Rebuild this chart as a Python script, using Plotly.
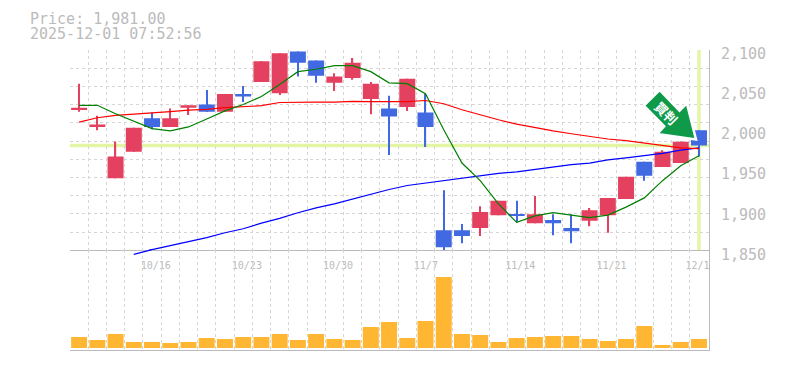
import plotly.graph_objects as go

dates = ["10/9","10/10","10/14","10/15","10/16","10/17","10/20","10/21","10/22","10/23","10/24","10/27",
         "10/28","10/29","10/30","10/31","11/4","11/5","11/6","11/7","11/10","11/11","11/12","11/13","11/14",
         "11/17","11/18","11/19","11/20","11/21","11/25","11/26","11/27","11/28","12/1"]
open_ = [2026,2004,1940,1973,2015,2004,2028,2032,2023,2045,2060,2046,2098,2087,2059,2065,2039,2027,2029,2022,
         1875,1875,1878,1894,1895.5,1884,1888,1878,1887,1894,1914,1960.5,1954,1959,2000]
close = [2028,2007,1967,2003,2004,2015,2031,2023,2045,2042,2086,2096,2084,2068,2067,2084,2058,2017,2064,2004,
         1854,1868,1898,1912,1893,1895,1884,1874,1900,1915.5,1942,1943,1973,1985.5,1981]
high = [2058,2018,1986,2003,2022,2027,2031,2050,2045,2055,2086,2096,2098,2087,2071,2090,2060,2043,2064,2045,
        1925,1883,1905,1912,1912,1918,1895,1895,1903,1915.5,1942,1960.5,1975,1986,2000]
low = [2023,2000,1940,1973,2001,2004,2019,2023,2023,2035,2060,2044,2067,2059,2049,2063,2020,1969,2024,1979,
       1850,1859,1868,1894,1885,1884,1869,1859,1880,1872,1914,1937,1954,1959,1967]
ma_short = [2031,2031,2020.5,2011,2002,1999,2004,2014,2024,2032,2042,2057,2073,2076,2080.5,2080.5,2073,2059,2058,2045.5,
            2000.5,1959,1937,1908,1885,1893,1897,1894,1891,1894,1904,1915.5,1937,1955.5,1968]
ma_mid = [2010,2015.5,2018.5,2020,2021,2023,2025,2026,2028,2029,2030.5,2034.5,2035,2035,2035,2036,2035.5,2035.5,2035.5,2037,
          2033,2025.5,2019,2013,2007.5,2003,1999,1995.5,1992,1989,1987,1984,1980.5,1978,1977]
ma_long = [None,None,None,1845,1851,1856,1861,1866,1872,1877,1884,1890,1897,1903,1908,1914,1920.5,1926,1931,1934,
           1937,1940.5,1943.5,1946,1948,1951,1953.5,1957,1959,1963,1965.5,1968,1971,1975,1978]
volume = [11,8,14,6,6,5,6,10,9,11,11,14,8,14,9,8,21,26,10,27,71,14,13,6,10,11,12,12,9,7,9,22,3,6,9]

price_now = close[-1]
price_ticks = [1850,1900,1950,2000,2050,2100]
label_dates = ["10/16","10/23","10/30","11/7","11/14","11/21","12/1"]

W, H = 785, 370
L, R, T, B = 70, 75.5, 50, 20
PW, PH = W - L - R, H - T - B
def px(x): return (x - L) / PW
def py(y): return 1 - (y - T) / PH

idx = list(range(len(dates)))
GRID = "#d6d6d6"
AXIS = "#bbbbbb"
TXT = "#bbbbbb"
UP, DOWN = "#e3415f", "#4169e1"
MONO = "DejaVu Sans Mono"
split = (350 - 250.4) / PH
colors = [UP if c >= o else DOWN for o, c in zip(open_, close)]

fig = go.Figure()
for vals, col in ((ma_long, "#0000ff"), (ma_mid, "#ff0000"), (ma_short, "#008000")):
    fig.add_trace(go.Scatter(x=idx, y=vals, mode="lines", line=dict(color=col, width=1.2),
                             cliponaxis=False, showlegend=False, hoverinfo="skip"))
# wicks, then bodies
fig.add_trace(go.Bar(x=idx, y=[h - l for h, l in zip(high, low)], base=low, width=0.066,
                     marker=dict(color=colors, line=dict(width=0)), showlegend=False))
fig.add_trace(go.Bar(x=idx, y=[abs(c - o) for o, c in zip(open_, close)], base=[min(o, c) for o, c in zip(open_, close)],
                     width=0.877, marker=dict(color=colors, line=dict(width=0)), showlegend=False))
fig.add_trace(go.Bar(x=idx, y=volume, width=0.877, marker=dict(color="#ffb733", line=dict(width=0)),
                     xaxis="x2", yaxis="y2", showlegend=False))
# invisible carrier for the overlay grid axes
fig.add_trace(go.Scatter(x=[0], y=[2000], mode="markers", marker=dict(opacity=0), xaxis="x3", yaxis="y3",
                         showlegend=False, hoverinfo="skip"))
# the start of the long average dips under the price panel's floor: same values on an axis reaching lower
fig.add_trace(go.Scatter(x=idx[3:5], y=ma_long[3:5], mode="lines", line=dict(color="#0000ff", width=1.2),
                         xaxis="x4", yaxis="y4", showlegend=False, hoverinfo="skip"))

xr = [-0.5, 34.55]
grid_x = [i - 0.5 for i in range(len(dates) + 1)]
grid_y = [1850 + i * 250 / 11 for i in range(12)]
label_pos = [dates.index(d) + (0.2 if len(d) == 5 else 0.02) - (0.1 if d == "12/1" else 0) for d in label_dates]

fig.update_layout(
    width=W, height=H, margin=dict(l=L, r=R, t=T, b=B, autoexpand=False), autosize=False, barmode="overlay",
    paper_bgcolor="white", plot_bgcolor="rgba(0,0,0,0)", showlegend=False,
    xaxis=dict(range=xr, domain=[0, 1], anchor="y", tickmode="array", tickvals=label_pos, ticktext=label_dates,
               showgrid=False, showline=True, linecolor=AXIS, linewidth=1, ticks="", zeroline=False, automargin=False,
               tickfont=dict(family=MONO, size=10, color=TXT), ticklabelstandoff=6, tickangle=0),
    yaxis=dict(range=[1850, 2100], domain=[split, 1], anchor="x", side="right", tickmode="array", automargin=False,
               tickvals=price_ticks, ticktext=[f"{v:,}" for v in price_ticks], showgrid=False, showline=True,
               linecolor=AXIS, linewidth=1, ticks="", zeroline=False, ticklabelstandoff=8, ticklabelshift=4,
               tickfont=dict(family=MONO, size=15, color=TXT)),
    xaxis2=dict(range=xr, domain=[0, 1], anchor="y2", tickmode="array", tickvals=grid_x, showticklabels=False,
                showgrid=True, gridcolor=GRID, griddash="3px,3px", gridwidth=1, showline=True, linecolor=AXIS,
                linewidth=1, ticks="", zeroline=False),
    yaxis2=dict(range=[-2, 97.6], domain=[0, split], anchor="x2", side="right", showticklabels=False, showgrid=False,
                showline=True, linecolor=AXIS, linewidth=1, ticks="", zeroline=False),
    xaxis3=dict(range=xr, overlaying="x", anchor="y3", tickmode="array", tickvals=grid_x, showticklabels=False,
                showgrid=True, gridcolor=GRID, griddash="3px,3px", gridwidth=1, showline=False, ticks="", zeroline=False),
    yaxis3=dict(range=[1850, 2100], overlaying="y", anchor="x3", tickmode="array", tickvals=grid_y, showticklabels=False,
                showgrid=True, gridcolor=GRID, griddash="3px,3px", gridwidth=1, showline=False, ticks="", zeroline=False),
    xaxis4=dict(range=xr, domain=[0, 1], anchor="y4", visible=False),
    yaxis4=dict(range=[1840, 2100], domain=[split - 8 / PH, 1], anchor="x4", visible=False),
)

# current price highlight
hl = dict(color="#e3f6a6", width=3.5)
fig.add_shape(type="line", xref="x domain", yref="y", x0=0, x1=1, y0=price_now, y1=price_now, line=hl, layer="below")
fig.add_shape(type="line", xref="x", yref="y domain", x0=idx[-1], x1=idx[-1], y0=0, y1=1, line=hl, layer="below")

# clip of the last date label at the chart's right edge
fig.add_shape(type="rect", xref="paper", yref="paper", x0=px(710.6), x1=px(722), y0=py(270), y1=py(253),
              line=dict(width=0), fillcolor="white", layer="above")

# arrow badge
pts = [(660,90),(680,110.7),(687.3,103.3),(696.5,139.5),(657.7,134),(664.7,126.3),(644.3,105.7)]
path = "M " + " L ".join(f"{px(x):.5f},{py(y):.5f}" for x, y in pts) + " Z"
fig.add_shape(type="path", xref="paper", yref="paper", path=path, fillcolor="#0e9a49",
              line=dict(color="white", width=2.5), layer="above")
fig.add_annotation(xref="paper", yref="paper", x=px(666), y=py(113), text="<b>買判</b>", showarrow=False, textangle=45,
                   xanchor="center", yanchor="middle",
                   font=dict(family="Noto Sans CJK JP", size=13, color="white"))

for txt, yy in ((f"Price: {price_now:,.2f}", 19), ("2025-12-01 07:52:56", 34)):
    fig.add_annotation(xref="paper", yref="paper", x=px(27.5), y=py(yy), text=txt, showarrow=False, xanchor="left",
                       yanchor="middle", font=dict(family=MONO, size=15, color=TXT))

fig.write_html("out.html", config=dict(displayModeBar=False),
               post_script="document.body.style.margin='0';document.body.style.overflow='hidden';")
